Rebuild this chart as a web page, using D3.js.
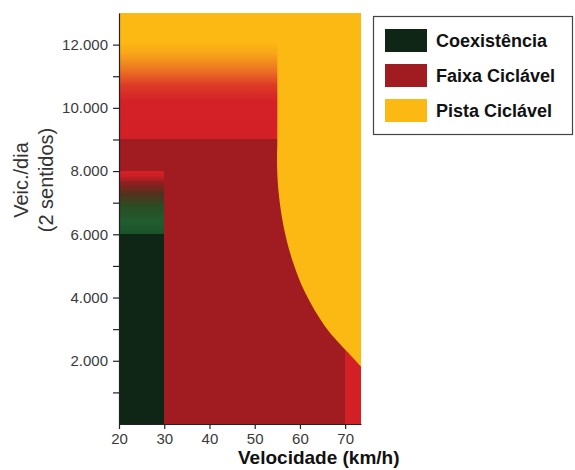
<!DOCTYPE html>
<html>
<head>
<meta charset="utf-8">
<script src="https://cdn.jsdelivr.net/npm/d3@7"></script>
<style>
  body { margin: 0; background: #fff; }
  svg { display: block; font-family: "Liberation Sans", Arial, sans-serif; }
</style>
</head>
<body>
<script>
// data
var speedTicks = [20, 30, 40, 50, 60, 70];
var volumeTicks = [1000, 2000, 3000, 4000, 5000, 6000, 7000, 8000, 9000, 10000, 11000, 12000];
var legendLabels = ["Coexistência", "Faixa Ciclável", "Pista Ciclável"];
var legendColors = ["#0f2617", "#a11c21", "#fdb913"];

// zone limits (km/h, veic./dia)
var coexZone = { x0: 20, x1: 30, y0: 0, y1: 6000 };
var coexFade = { x0: 20, x1: 30, y0: 6000, y1: 8000 };
var faixaZone = { x0: 20, x1: 73.5, y0: 0, y1: 9000 };
var faixaLight = { x0: 70, x1: 73.5, y0: 0, y1: 9000 };
var topFade = { x0: 20, x1: 56, y0: 9000, y1: 13000 }; // runs under the yellow edge

// Pista Ciclável boundary
var pistaEdge = [
  [55, 13000], [55, 9000], [54.95, 8140], [55.3, 7310], [56.4, 6240],
  [58.3, 5190], [61.2, 4140], [65.6, 3080], [70.7, 2250], [73.5, 1810]
];

// gradient stops
var topStops = [[9000, "#d31f26"], [10200, "#d42027"], [10700, "#dc3a27"], [11200, "#ec7423"], [11700, "#f8a51a"], [12100, "#fdb913"], [13000, "#fdb913"]];
var coexStops = [[6000, "#1c5329"], [6400, "#1f5d2e"], [6900, "#2b4c23"], [7300, "#55301c"], [7650, "#941e20"], [7850, "#cc2026"], [8000, "#d42027"]];

var width = 575, height = 470;

var x = d3.scaleLinear().domain([20, 73.5]).range([119, 361]);
var y = d3.scaleLinear().domain([0, 13000]).range([424, 13]);

var svg = d3.select("body").append("svg")
  .attr("width", width)
  .attr("height", height);

var defs = svg.append("defs");

function vGradient(id, stops, y0, y1) {
  var g = defs.append("linearGradient")
    .attr("id", id)
    .attr("gradientUnits", "userSpaceOnUse")
    .attr("x1", 0).attr("x2", 0)
    .attr("y1", y(y0)).attr("y2", y(y1));
  g.selectAll("stop").data(stops).enter().append("stop")
    .attr("offset", function (d) { return (d[0] - y0) / (y1 - y0); })
    .attr("stop-color", function (d) { return d[1]; });
}
vGradient("topGrad", topStops, 9000, 13000);
vGradient("coexGrad", coexStops, 6000, 8000);

defs.append("clipPath").attr("id", "plotClip")
  .append("rect")
  .attr("x", x(20)).attr("y", y(13000))
  .attr("width", x(73.5) - x(20)).attr("height", y(0) - y(13000));

var plot = svg.append("g").attr("clip-path", "url(#plotClip)");

function zoneRect(z, fill) {
  plot.append("rect")
    .attr("x", Math.round(x(z.x0))).attr("y", Math.round(y(z.y1)))
    .attr("width", Math.round(x(z.x1)) - Math.round(x(z.x0)))
    .attr("height", Math.round(y(z.y0)) - Math.round(y(z.y1)))
    .attr("shape-rendering", "crispEdges")
    .attr("fill", fill);
}

zoneRect(faixaZone, legendColors[1]);
zoneRect(faixaLight, "#d31f26");
zoneRect(topFade, "url(#topGrad)");

plot.append("path")
  .attr("d", d3.line()
    .x(function (d) { return x(d[0]); })
    .y(function (d) { return y(d[1]); })
    .curve(d3.curveCatmullRom.alpha(0.5))(pistaEdge) +
    "L" + x(74) + "," + y(1810) + "L" + x(74) + "," + y(13500) + "L" + x(55) + "," + y(13500) + "Z")
  .attr("fill", legendColors[2]);

zoneRect(coexZone, legendColors[0]);
zoneRect(coexFade, "url(#coexGrad)");

// axes
var fmt = d3.formatLocale({ decimal: ",", thousands: ".", grouping: [3], currency: ["", ""] }).format(",");

var yAxis = svg.append("g")
  .attr("transform", "translate(" + x(20) + ",0)")
  .call(d3.axisLeft(y).tickValues(volumeTicks).tickSize(6).tickSizeOuter(0).tickPadding(5)
    .tickFormat(function (d) { return d % 2000 === 0 ? fmt(d) : ""; }));

var xAxis = svg.append("g")
  .attr("transform", "translate(0," + y(0) + ")")
  .call(d3.axisBottom(x).tickValues(speedTicks).tickSize(5).tickSizeOuter(0).tickPadding(4));

[yAxis, xAxis].forEach(function (a) {
  a.selectAll("path, line").attr("stroke", "#222").attr("stroke-width", 1.2);
  a.selectAll("text").attr("fill", "#3a3a3a").style("font-size", "15px")
    .style("font-family", "'Liberation Sans', Arial, sans-serif");
});

// axis titles
svg.append("text")
  .attr("x", 238).attr("y", 464)
  .attr("fill", "#111")
  .style("font-size", "19px").style("font-weight", "bold")
  .text("Velocidade (km/h)");

var yt = svg.append("text")
  .attr("transform", "translate(28,180) rotate(-90)")
  .attr("text-anchor", "middle")
  .attr("fill", "#333")
  .style("font-size", "20px");
yt.append("tspan").attr("x", 0).attr("dy", 0).text("Veic./dia");
yt.append("tspan").attr("x", 0).attr("dy", 25).text("(2 sentidos)");

// legend
var legend = svg.append("g");
legend.append("rect")
  .attr("x", 373.5).attr("y", 16.5).attr("width", 199).attr("height", 118)
  .attr("fill", "#fff").attr("stroke", "#444").attr("stroke-width", 1.2);

var rows = legend.selectAll("g.row").data(legendLabels).enter().append("g")
  .attr("transform", function (d, i) { return "translate(385," + (29 + i * 35) + ")"; });
rows.append("rect")
  .attr("width", 42).attr("height", 23)
  .attr("fill", function (d, i) { return legendColors[i]; });
rows.append("text")
  .attr("x", 51).attr("y", 17.5)
  .attr("fill", "#111")
  .style("font-size", "18px").style("font-weight", "bold")
  .text(function (d) { return d; });
</script>
</body>
</html>
